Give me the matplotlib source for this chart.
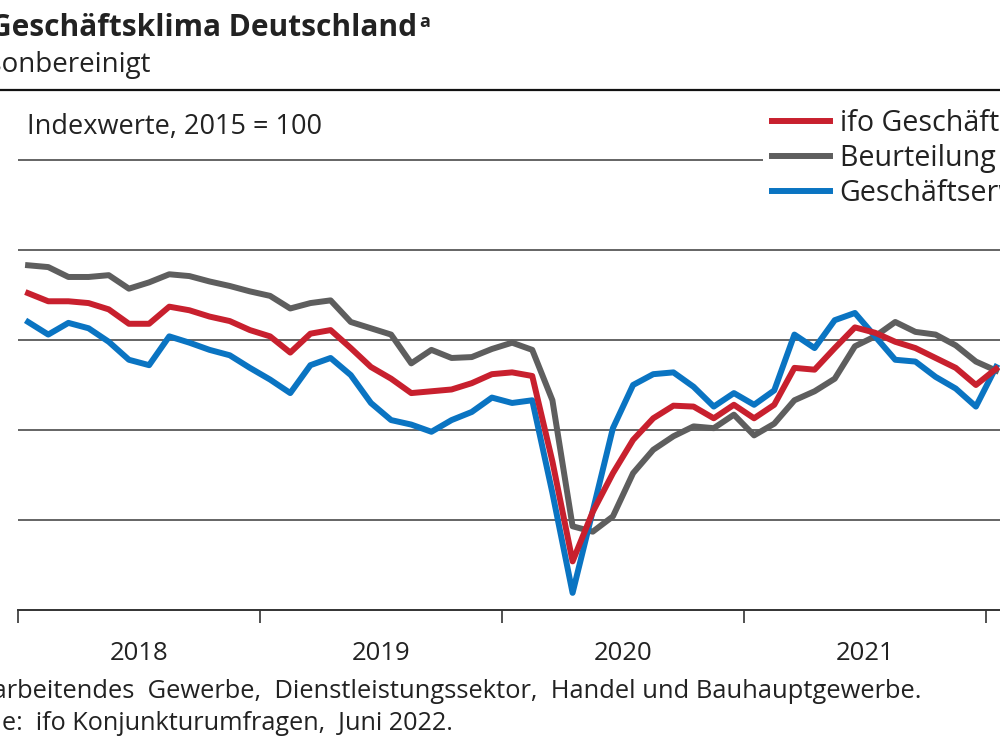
import matplotlib.pyplot as plt
import numpy as np

plt.rcParams['font.family'] = ['Open Sans', 'DejaVu Sans']

# monthly values Jan 2018 .. Jan 2022, index 2015 = 100
klima = [105.2, 104.3, 104.3, 104.1, 103.4, 101.8, 101.8, 103.7, 103.3, 102.6, 102.1, 101.1,
         100.4, 98.6, 100.7, 101.1, 99.1, 97.0, 95.7, 94.1, 94.3, 94.5, 95.2, 96.2,
         96.4, 96.0, 86.5, 75.4, 80.9, 85.2, 88.9, 91.3, 92.7, 92.6, 91.3, 92.8,
         91.3, 92.8, 96.9, 96.7, 99.1, 101.4, 100.8, 99.8, 99.1, 98.0, 96.9, 95.0,
         96.8]
lage = [108.3, 108.1, 107.0, 107.0, 107.2, 105.7, 106.4, 107.3, 107.1, 106.5, 106.0, 105.4,
        104.9, 103.5, 104.1, 104.4, 102.0, 101.3, 100.6, 97.4, 98.9, 98.0, 98.1, 99.0,
        99.7, 98.9, 93.3, 79.3, 78.7, 80.4, 85.2, 87.8, 89.3, 90.4, 90.2, 91.7,
        89.4, 90.7, 93.3, 94.3, 95.7, 99.3, 100.4, 102.0, 100.9, 100.6, 99.4, 97.6,
        96.6]
erwartungen = [102.0, 100.6, 101.9, 101.3, 99.8, 97.8, 97.2, 100.4, 99.7, 98.9, 98.3, 96.9,
               95.6, 94.1, 97.2, 98.0, 96.1, 93.0, 91.1, 90.6, 89.8, 91.1, 92.0, 93.6,
               93.0, 93.3, 83.0, 71.9, 81.0, 90.2, 95.0, 96.2, 96.4, 94.8, 92.6, 94.1,
               92.8, 94.4, 100.6, 99.1, 102.2, 103.0, 100.4, 97.8, 97.6, 95.9, 94.6, 92.6,
               97.0]
years = [2018, 2019, 2020, 2021, 2022]
year_labels = ['2018', '2019', '2020', '2021']
labels = ['ifo Geschäftsklima', 'Beurteilung der Geschäftslage', 'Geschäftserwartungen']

t = 2018 + (np.arange(len(klima)) + 0.5) / 12

fig = plt.figure(figsize=(10, 7.5), dpi=100)
ax = fig.add_axes([0.018, 0.1867, 1.089, 0.66])

l2, = ax.plot(t, lage, color='#5e5e5e', lw=4.3)
l3, = ax.plot(t, erwartungen, color='#0a74c2', lw=4.3)
l1, = ax.plot(t, klima, color='#c8202e', lw=4.3)

ax.set_xlim(2018, 2022.5)
ax.set_ylim(70, 125)
ax.set_yticks([80, 90, 100, 110, 120])
ax.yaxis.grid(True, color='#3a3a3a', lw=1.1)
ax.set_axisbelow(True)
ax.tick_params(axis='y', length=0, labelleft=False)
for s in ['top', 'left', 'right']:
    ax.spines[s].set_visible(False)
ax.spines['bottom'].set_color('#333333')
ax.spines['bottom'].set_linewidth(1.4)

ax.set_xticks(years)
ax.set_xticklabels([])
ax.set_xticks([y + 0.5 for y in years[:-1]], minor=True)
ax.set_xticklabels(year_labels, minor=True, fontsize=18.5, color='#222222')
ax.tick_params(axis='x', which='major', length=9, width=1.2, color='#333333')
ax.tick_params(axis='x', which='minor', length=0, pad=22)

leg = ax.legend([l1, l2, l3], labels, loc='upper left',
                bbox_to_anchor=(0.763, 0.866), bbox_transform=fig.transFigure,
                fontsize=20.6, frameon=True, facecolor='white', edgecolor='none',
                framealpha=1, borderpad=0.3, handlelength=2.03, handletextpad=0.35,
                labelspacing=0.2, borderaxespad=0)
for txt in leg.get_texts():
    txt.set_color('#222222')

fig.text(0.027, 0.821, 'Indexwerte, 2015 = 100', fontsize=19.5, color='#222222', va='baseline')

fig.text(0.417, 0.952, 'Geschäftsklima Deutschland', fontsize=21.5, fontweight='bold',
         color='#222222', ha='right', va='baseline')
fig.text(0.419, 0.964, 'a', fontsize=13, fontweight='bold', color='#222222', va='baseline')
fig.text(0.151, 0.904, 'saisonbereinigt', fontsize=20, color='#222222', ha='right', va='baseline')
fig.add_artist(plt.Line2D([0, 1], [0.88, 0.88], color='#111111', lw=1.6,
                          transform=fig.transFigure))

fig.text(0.922, 0.069, 'a Verarbeitendes  Gewerbe,  Dienstleistungssektor,  Handel und Bauhauptgewerbe.',
         fontsize=18.35, color='#222222', ha='right', va='baseline')
fig.text(0.453, 0.027, 'Quelle:  ifo Konjunkturumfragen,  Juni 2022.',
         fontsize=18.2, color='#222222', ha='right', va='baseline')

fig.savefig('out.png', dpi=100)
